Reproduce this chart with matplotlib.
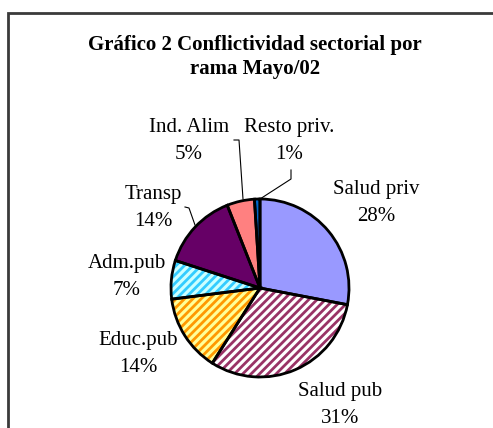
import matplotlib.pyplot as plt
from matplotlib.patches import Rectangle

# data
sectors = ['Salud priv', 'Salud pub', 'Educ.pub', 'Adm.pub', 'Transp', 'Ind. Alim', 'Resto priv.']
shares = [28, 31, 14, 7, 14, 5, 1]
pct_labels = ['28%', '31%', '14%', '7%', '14%', '5%', '1%']

face_colors = ['#9999FF', '#FFFFFF', '#FFFF99', '#CCFFFF', '#660066', '#FF8080', '#0066CC']
hatch_colors = ['#9999FF', '#993366', '#FF9900', '#33CCFF', '#660066', '#FF8080', '#0066CC']
hatches = [None, '////', '////', '////', None, None, None]

plt.rcParams['font.family'] = ['Liberation Serif', 'DejaVu Serif']
plt.rcParams['hatch.linewidth'] = 2.0

W, H = 493, 428
fig = plt.figure(figsize=(W / 100, H / 100), dpi=100)
ax = fig.add_axes([0, 0, 1, 1])

# outer frame (runs off the right and bottom edges)
ax.add_patch(Rectangle((8, -20), 520, H - 13 + 20, fill=False, edgecolor='#3a3a3a', linewidth=2))

cx, cy, r = 260, H - 288, 89

# fill + hatch layer
wedges, _ = ax.pie(shares, startangle=90, counterclock=False, center=(cx, cy), radius=r,
                   colors=face_colors, wedgeprops=dict(linewidth=0), frame=True)
for w, hc, h in zip(wedges, hatch_colors, hatches):
    w.set_edgecolor(hc)
    if h:
        w.set_hatch(h)
# outline layer
ax.pie(shares, startangle=90, counterclock=False, center=(cx, cy), radius=r,
       colors=['none'] * len(shares), wedgeprops=dict(linewidth=2, edgecolor='black'), frame=True)
ax.set_xlim(0, W)
ax.set_ylim(0, H)
ax.set_aspect('equal')
ax.axis('off')

# title
ax.text(255, H - 57, 'Gráfico 2 Conflictividad sectorial por\nrama Mayo/02', ha='center', va='center',
        fontsize=15, fontweight='bold', linespacing=1.25)

# labels (pixel positions of the label centres)
label_pos = [(376, 203), (340, 405), (138, 354), (127, 277), (153, 208), (189, 141), (289, 141)]
for (x, y), name, p in zip(label_pos, sectors, pct_labels):
    ax.text(x, H - y, name + '\n' + p, ha='center', va='center', fontsize=15, linespacing=1.6)

# leader lines
leaders = [
    [(185, 207), (189, 208), (195, 225)],
    [(234, 140), (239, 140), (243, 199)],
    [(291, 170), (291, 179), (260, 199)],
]
for pts in leaders:
    ax.plot([p[0] for p in pts], [H - p[1] for p in pts], color='black', linewidth=0.8)

fig.savefig('out.png', dpi=100)
